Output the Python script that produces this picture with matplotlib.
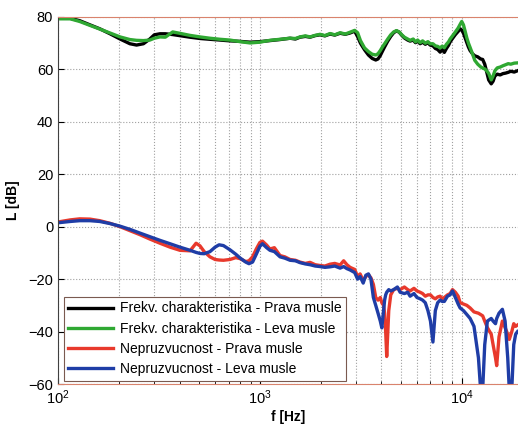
import matplotlib
matplotlib.use("Agg")
import matplotlib.pyplot as plt
from matplotlib.ticker import LogLocator, NullFormatter, FixedLocator

plt.rcParams['font.family'] = ['Liberation Sans', 'DejaVu Sans']

# ---- data ----
f_up = [100, 115, 128, 144, 161, 181, 203, 227, 245, 265, 285, 300, 320, 340, 370,
        400, 450, 505, 566, 635, 711, 797, 894, 1000, 1122, 1259, 1411, 1500, 1581,
        1680, 1773, 1880, 1987, 2100, 2227, 2350, 2497, 2650, 2798, 2950, 3050, 3150,
        3300, 3450, 3600, 3750, 3850, 3950, 4050, 4150, 4300, 4450, 4600, 4750, 4900,
        5050, 5200, 5400, 5550, 5750, 5900, 6050, 6220, 6400, 6600, 6800, 6972, 7200,
        7400, 7600, 7815, 8000, 8200, 8400, 8600, 8760, 9000, 9300, 9600, 9820, 10000,
        10200, 10400, 10600, 10800, 11000, 11300, 11600, 12000, 12400, 12700, 13000,
        13300, 13600, 14000, 14300, 14600, 15000, 15500, 16000, 16500, 17000, 17500,
        18200, 18900]
black_up = [79.5, 79.5, 78.6, 77.0, 75.5, 73.6, 71.6, 69.8, 69.3, 69.8, 71.6, 73.2, 73.6,
            73.6, 73.3, 72.9, 72.3, 71.8, 71.5, 71.2, 70.9, 70.7, 70.4, 70.6, 71.0, 71.4,
            71.9, 71.6, 72.3, 72.6, 72.3, 72.9, 73.2, 72.8, 73.5, 73.1, 73.8, 73.4, 73.9,
            74.6, 72.5, 70.0, 67.5, 65.5, 64.2, 63.6, 64.0, 65.3, 67.0, 68.6, 70.8, 72.6,
            74.0, 74.7, 74.2, 73.0, 72.0, 71.2, 70.8, 71.2, 70.2, 70.8, 69.8, 70.4, 69.6,
            70.2, 69.3, 69.0, 68.0, 67.6, 66.6, 67.6, 66.5, 68.0, 69.2, 70.5, 71.8, 73.3,
            74.5, 75.5, 75.0, 73.8, 72.0, 70.2, 68.5, 67.2, 66.0, 65.2, 64.8, 64.0, 63.8,
            62.0, 59.0, 56.0, 54.5, 55.5, 57.5, 58.2, 57.9, 58.4, 58.6, 58.9, 59.3, 59.0,
            59.5]
green_up = [79.3, 79.3, 78.3, 76.8, 75.4, 73.9, 72.4, 71.4, 71.1, 71.0, 71.2, 71.9, 72.4,
            72.3, 74.3, 73.8, 73.0, 72.4, 71.9, 71.5, 71.2, 70.6, 70.1, 70.4, 71.1, 71.5,
            71.9, 71.8, 72.4, 72.8, 72.4, 73.0, 73.4, 72.9, 73.7, 73.2, 74.0, 73.5, 74.2,
            74.9, 74.0, 71.0, 68.2, 66.8, 65.8, 65.5, 66.0, 67.2, 68.6, 69.8, 71.6, 73.2,
            74.3, 74.8, 74.3, 73.2, 72.3, 71.6, 71.1, 71.6, 70.5, 71.2, 70.2, 70.9, 70.0,
            70.6, 69.8, 69.8, 69.0, 68.8, 68.2, 68.9, 68.3, 69.6, 70.5, 71.6, 72.8, 74.3,
            75.8, 77.2, 78.3, 77.0, 74.5, 72.0, 70.0, 68.4, 66.0, 63.5, 62.0, 61.0, 60.5,
            60.2, 59.5, 58.5, 56.0, 57.5, 59.5, 60.6, 60.9, 61.4, 61.8, 62.2, 62.0, 62.4,
            62.5]

f_lo = [100, 115, 128, 144, 161, 181, 203, 227, 254, 285, 320, 359, 402, 451, 483, 505,
        530, 566, 600, 628, 660, 711, 760, 800, 851, 883, 920, 960, 1000, 1030, 1080,
        1122, 1180, 1259, 1330, 1411, 1500, 1581, 1680, 1773, 1880, 1987, 2100, 2227,
        2350, 2497, 2600, 2700, 2798, 2950, 3050, 3137, 3250, 3350, 3450, 3550, 3650,
        3750, 3850, 3950, 4020, 4100, 4150, 4200, 4250, 4350, 4450, 4600, 4800, 4951,
        5200, 5400, 5550, 5800, 6000, 6220, 6400, 6600, 6800, 7000, 7200, 7400, 7600,
        7815, 8000, 8200, 8500, 8760, 9000, 9300, 9600, 9820, 10200, 10600, 11006,
        11500, 12100, 12400, 12700, 13000, 13400, 14000, 14300, 14700, 14900, 15300,
        15900, 16400, 16900, 17200, 17700, 18100, 18500, 18900]
red_lo = [1.8, 2.6, 3.0, 2.9, 2.3, 1.3, 0.0, -1.5, -3.0, -4.7, -6.3, -7.8, -9.0, -9.2,
          -6.3, -7.3, -9.5, -11.5, -12.5, -12.7, -12.8, -12.5, -11.8, -12.2, -13.3, -13.0,
          -11.5, -8.5, -6.0, -5.5, -7.0, -8.5, -8.0, -11.0, -11.5, -12.5, -12.8, -13.5,
          -14.0, -13.6, -14.5, -14.8, -15.0, -14.3, -14.0, -14.6, -13.0, -14.5, -15.5,
          -16.3, -19.0, -18.0, -20.5, -19.0, -18.3, -19.5, -22.0, -27.0, -28.0, -27.0,
          -29.0, -30.0, -33.0, -40.0, -49.5, -32.0, -26.0, -24.0, -23.5, -24.0, -23.0,
          -24.0, -24.5, -23.5, -24.5, -25.0, -25.5, -26.5, -26.0, -26.0, -27.0, -27.5,
          -26.8, -26.5, -27.5, -27.0, -26.0, -25.5, -24.0, -25.0, -26.5, -29.0, -29.5,
          -30.0, -31.0, -32.5, -33.0, -33.5, -34.0, -36.0, -38.5, -41.0, -45.0, -50.0,
          -53.0, -42.0, -36.0, -38.5, -41.0, -43.0, -40.0, -37.0, -38.0, -37.5]
blue_lo = [1.5, 2.0, 2.3, 2.3, 2.0, 1.2, 0.2, -1.0, -2.4, -3.8, -5.2, -6.5, -7.8, -9.0,
           -9.8, -10.2, -10.3, -9.5, -7.8, -6.9, -7.2, -8.8, -10.5, -12.0, -13.5, -14.1,
           -13.5, -10.5, -7.5, -6.5, -8.0, -9.0, -9.5, -11.5, -12.0, -12.8, -13.0, -13.7,
           -14.2, -14.5, -15.0, -15.2, -15.5, -15.3, -15.0, -15.8, -15.2, -16.0, -16.5,
           -17.5, -20.0, -19.0, -21.5, -18.5, -18.0, -20.0, -27.0, -30.0, -33.0, -36.0,
           -38.6, -32.0, -28.0, -26.0, -25.0, -24.0, -24.5, -24.0, -23.0, -25.0, -25.5,
           -25.0, -26.5, -25.5, -27.0, -27.5, -28.0, -29.0, -32.0, -36.0, -44.0, -32.0,
           -29.0, -28.0, -28.5, -28.5, -26.5, -26.0, -24.5, -27.0, -29.5, -31.0, -32.0,
           -33.5, -35.0, -38.0, -50.0, -62.0, -62.0, -45.0, -36.0, -35.0, -36.0, -37.0,
           -35.0, -33.0, -31.5, -36.0, -50.0, -62.0, -62.0, -45.0, -41.0, -40.0]

labels = ["Frekv. charakteristika - Prava musle",
          "Frekv. charakteristika - Leva musle",
          "Nepruzvucnost - Prava musle",
          "Nepruzvucnost - Leva musle"]
colors = ["#000000", "#2fa832", "#e8392c", "#1f3da6"]

yticks = [-60, -40, -20, 0, 20, 40, 60, 80]

# ---- figure ----
fig = plt.figure(figsize=(5.18, 4.28), dpi=100)
ax = fig.add_axes([58/518, 44/428, 460/518, 367/428])

lw = 2.4
ax.plot(f_up, black_up, color=colors[0], lw=lw, label=labels[0])
ax.plot(f_up, green_up, color=colors[1], lw=lw, label=labels[1])
ax.plot(f_lo, red_lo, color=colors[2], lw=lw, label=labels[2])
ax.plot(f_lo, blue_lo, color=colors[3], lw=lw, label=labels[3])

ax.set_xscale('log')
ax.set_xlim(100, 19000)
ax.set_ylim(-60, 80)
ax.yaxis.set_major_locator(FixedLocator(yticks))
ax.xaxis.set_major_locator(LogLocator(base=10))
ax.xaxis.set_minor_locator(LogLocator(base=10, subs=range(2, 10)))
ax.xaxis.set_minor_formatter(NullFormatter())

ax.grid(True, which='major', axis='both', color='#a0a0a0', linestyle=':', linewidth=0.8)
ax.grid(True, which='minor', axis='x', color='#a0a0a0', linestyle=':', linewidth=0.8)

ax.tick_params(which='both', direction='in', labelsize=10.5, top=False, right=False)
ax.tick_params(which='major', length=4)
ax.tick_params(which='minor', length=2.5)

for side in ['top', 'bottom']:
    ax.spines[side].set_color('#d9836d')
ax.spines['left'].set_color('#404040')
ax.spines['right'].set_visible(False)
for s in ax.spines.values():
    s.set_linewidth(0.8)

ax.set_xlabel('f [Hz]', fontsize=10, fontweight='bold', labelpad=2)
ax.set_ylabel('L [dB]', fontsize=10, fontweight='bold', labelpad=6)

leg = ax.legend(loc='lower left', bbox_to_anchor=(0.012, 0.008), fontsize=10,
                handlelength=3.2, handletextpad=0.5, borderpad=0.35,
                labelspacing=0.45, fancybox=False, framealpha=1.0,
                borderaxespad=0.0)
leg.get_frame().set_edgecolor('#7a5a50')
leg.get_frame().set_linewidth(0.8)

fig.savefig('out.png', dpi=100)
